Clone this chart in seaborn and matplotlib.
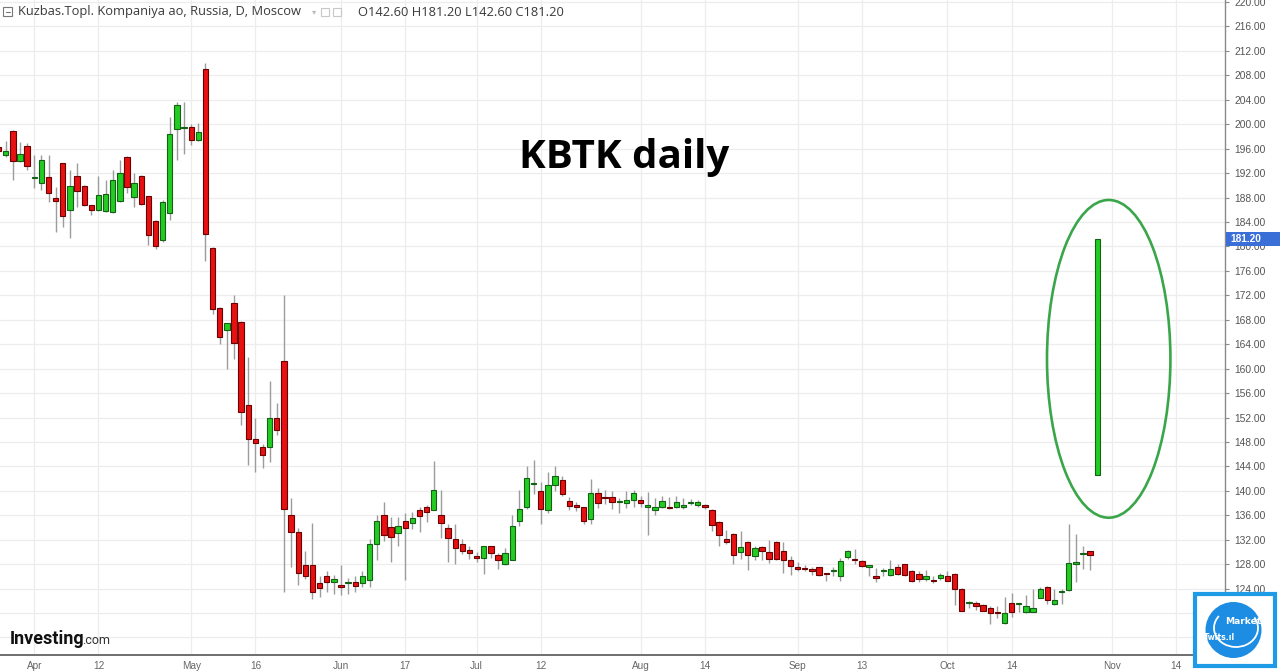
import numpy as np
import pandas as pd
import matplotlib
matplotlib.use("Agg")
import matplotlib.pyplot as plt
import matplotlib.transforms as mtransforms
from matplotlib.patches import Ellipse, Rectangle, Circle, Arc
import seaborn as sns

# ---------------- data (daily candles, oldest first) ----------------
opens = [196.2, 194.9, 198.9, 193.9, 196.5, 191.2, 190.3, 191.3, 187.9, 193.6,
         186.0, 191.6, 189.9, 186.7, 185.9, 185.8, 185.6, 187.4, 194.7, 188.1,
         191.6, 188.2, 184.2, 181.1, 185.4, 199.2, 199.3, 199.5, 197.4, 209.1,
         179.8, 170.0, 166.4, 170.8, 167.7, 154.0, 148.4, 147.1, 147.1, 152.0,
         161.2, 136.1, 133.2, 127.9, 127.9, 124.9, 126.1, 125.0, 124.6, 124.9,
         125.0, 124.9, 125.4, 131.3, 136.1, 134.15, 133.1, 135.0, 134.7, 136.9,
         137.3, 136.9, 136.0, 133.9, 132.1, 131.3, 130.3, 129.3, 129.0, 130.9,
         129.5, 128.0, 128.7, 135.0, 137.4, 141.1, 139.9, 136.9, 140.9, 141.7,
         138.3, 137.6, 137.3, 135.4, 139.7, 139.0, 139.0, 138.1, 138.0, 138.5,
         138.5, 137.3, 136.9, 137.4, 137.4, 137.3, 137.3, 138.0, 137.6, 137.7,
         136.9, 134.9, 132.15, 133.0, 130.0, 131.7, 129.4, 130.8, 130.0, 131.6,
         130.1, 128.7, 127.6, 127.4, 127.25, 127.5, 126.5, 126.9, 126.1, 129.2,
         128.65, 128.45, 127.6, 126.1, 126.9, 126.2, 127.5, 128.0, 126.8, 126.4,
         125.6, 125.35, 125.7, 126.0, 126.4, 124.0, 121.6, 121.6, 121.25, 120.8,
         120.2, 118.3, 121.6, 121.4, 120.2, 120.2, 122.45, 124.2, 121.4, 123.4,
         123.7, 128.1, 129.7, 130.1, 142.6]
highs = [196.5, 197.3, 199.1, 197.1, 197.0, 194.9, 195.0, 194.9, 189.8, 193.7,
         192.5, 193.6, 190.0, 186.8, 191.5, 190.8, 192.5, 194.1, 194.8, 192.0,
         191.7, 188.3, 184.3, 187.6, 201.2, 203.7, 203.7, 200.0, 200.2, 210.1,
         179.9, 170.1, 167.5, 172.0, 167.8, 161.9, 151.9, 147.6, 157.9, 154.4,
         172.0, 138.9, 133.9, 130.2, 134.7, 126.1, 126.9, 126.3, 127.9, 125.8,
         126.1, 126.8, 132.1, 136.1, 138.1, 135.7, 135.7, 136.3, 136.5, 137.3,
         137.6, 144.9, 140.2, 134.6, 134.5, 132.1, 131.0, 130.0, 131.0, 131.0,
         129.8, 130.7, 136.0, 140.2, 144.0, 145.1, 141.4, 143.1, 144.0, 142.5,
         139.0, 138.1, 137.4, 142.0, 140.5, 140.1, 140.0, 138.8, 140.0, 140.2,
         139.1, 139.8, 138.8, 139.1, 139.0, 139.2, 138.9, 138.7, 138.5, 137.9,
         137.0, 135.0, 133.6, 133.1, 133.35, 131.8, 130.9, 130.9, 132.0, 131.8,
         131.7, 129.3, 128.4, 127.9, 127.6, 127.6, 126.6, 127.6, 129.0, 130.35,
         130.5, 128.6, 127.8, 127.4, 127.4, 128.6, 128.0, 128.1, 127.0, 126.9,
         127.1, 126.0, 126.5, 126.9, 126.5, 124.1, 121.9, 122.0, 121.4, 121.1,
         121.1, 122.7, 123.3, 121.5, 122.9, 124.0, 124.2, 124.4, 124.0, 124.0,
         134.55, 133.0, 130.9, 130.2, 181.2]
lows = [195.3, 194.7, 190.9, 193.8, 192.5, 189.6, 189.2, 187.3, 182.3, 183.2,
        181.3, 186.5, 186.6, 185.1, 185.8, 185.7, 185.5, 187.3, 188.7, 186.4,
        186.8, 180.2, 179.5, 180.8, 184.3, 194.1, 195.2, 196.6, 197.2, 177.6,
        169.0, 164.0, 160.0, 161.6, 150.7, 144.3, 143.1, 143.7, 144.7, 149.1,
        123.4, 127.5, 124.6, 125.5, 122.3, 122.6, 123.4, 123.1, 123.0, 123.1,
        123.4, 124.2, 124.3, 128.7, 131.75, 128.3, 130.9, 125.4, 133.8, 133.2,
        134.9, 136.8, 132.3, 128.3, 128.1, 129.6, 128.9, 128.3, 126.4, 129.0,
        127.2, 127.9, 128.6, 134.3, 137.0, 139.5, 134.5, 136.3, 139.9, 139.2,
        136.8, 136.7, 134.6, 134.6, 137.2, 137.9, 137.0, 136.3, 137.2, 137.3,
        137.4, 132.7, 136.0, 137.2, 137.1, 137.2, 137.1, 137.6, 137.4, 137.1,
        133.35, 130.9, 131.3, 128.0, 128.9, 127.1, 128.6, 128.6, 128.2, 128.7,
        126.5, 126.3, 126.9, 126.8, 126.3, 126.1, 125.3, 126.0, 125.3, 128.9,
        128.0, 127.5, 126.1, 125.1, 126.0, 126.0, 126.3, 126.1, 125.1, 125.1,
        125.3, 124.9, 125.45, 125.2, 121.3, 120.3, 120.9, 120.5, 120.3, 118.2,
        119.2, 118.2, 119.3, 120.2, 120.0, 120.1, 122.4, 121.4, 121.3, 121.4,
        123.6, 125.0, 127.25, 127.0, 142.6]
closes = [195.6, 195.6, 194.0, 195.2, 193.2, 191.3, 194.1, 188.7, 187.5, 185.0,
          189.9, 189.0, 186.7, 186.0, 188.4, 188.6, 190.9, 192.0, 189.8, 190.3,
          186.9, 181.9, 180.1, 187.2, 198.4, 203.1, 199.6, 197.4, 198.8, 182.0,
          169.8, 165.2, 167.4, 164.2, 152.9, 148.4, 147.8, 145.9, 151.9, 150.0,
          137.0, 133.2, 126.5, 126.1, 123.4, 124.1, 125.0, 125.5, 124.2, 125.0,
          124.5, 126.1, 131.3, 135.0, 132.7, 132.5, 134.3, 133.9, 135.5, 135.8,
          136.5, 140.2, 134.7, 132.2, 130.6, 130.1, 129.8, 129.0, 130.9, 129.8,
          128.6, 129.8, 134.3, 137.0, 142.1, 141.2, 137.0, 140.9, 142.5, 139.4,
          137.5, 137.3, 135.0, 139.7, 138.0, 138.8, 138.2, 138.2, 138.5, 139.6,
          138.0, 137.7, 137.3, 138.4, 137.2, 138.1, 137.6, 138.05, 138.1, 137.3,
          134.4, 132.8, 131.6, 129.5, 130.8, 129.5, 130.7, 130.1, 128.9, 128.8,
          128.6, 127.7, 127.2, 127.2, 126.9, 126.2, 126.4, 126.95, 128.45, 130.1,
          128.6, 127.7, 127.65, 125.7, 126.95, 127.25, 126.4, 126.2, 125.3, 125.6,
          126.0, 125.2, 126.2, 125.3, 124.0, 120.4, 121.65, 121.2, 120.4, 120.0,
          119.95, 120.0, 120.2, 121.45, 121.2, 120.9, 124.0, 122.1, 122.2, 123.45,
          128.2, 128.15, 129.75, 129.5, 181.2]

tick_pos = [5, 14, 27, 36, 48, 57, 67, 76, 90, 99, 112, 121, 133, 142, 156, 165]
tick_labels = ["Apr", "12", "May", "16", "Jun", "17", "Jul", "12",
               "Aug", "14", "Sep", "13", "Oct", "14", "Nov", "14"]
price_ticks = list(range(116, 224, 4))

title_text = "KBTK daily"
header_text = "Kuzbas.Topl. Kompaniya ao, Russia, D, Moscow"

# ---------------- style ----------------
sns.set_theme(style="white")
plt.rcParams['font.family'] = ['DejaVu Sans']

df = pd.DataFrame({"o": opens, "h": highs, "l": lows, "c": closes})
df["x"] = np.arange(len(df))
df["bottom"] = df[["o", "c"]].min(axis=1)
df["body"] = (df["c"] - df["o"]).abs().clip(lower=0.18)
df["dir"] = np.where(df["c"] >= df["o"], "up", "down")

W, H = 1280, 672
fig = plt.figure(figsize=(W / 100, H / 100), dpi=100)
fig.patch.set_facecolor("white")
ax = fig.add_axes([0, 17 / H, 1225 / W, 655 / H])

# wicks
ax.vlines(df["x"], df["l"], df["h"], color="#9c9c9c", lw=1, zorder=2)

# bodies
for d, fc, ec in [("up", "#22cc22", "#146014"), ("down", "#e81111", "#6a0000")]:
    sub = df[df["dir"] == d].reset_index(drop=True)
    sns.barplot(data=sub, x="x", y="body", native_scale=True, width=0.75,
                bottom=sub["bottom"].values, color=fc, saturation=1,
                edgecolor=ec, linewidth=0.8, errorbar=None, ax=ax, zorder=3)

ax.set_xlabel("")
ax.set_ylabel("")
ax.set_xlim(0.2, 171.9)
ax.set_ylim(113.13, 220.33)

ax.set_xticks(tick_pos)
ax.set_xticklabels(tick_labels)
ax.set_yticks(price_ticks)
ax.set_yticklabels([f"{v:.2f}" for v in price_ticks])
ax.yaxis.tick_right()
ax.grid(True, color="#ededed", lw=0.9)
ax.set_axisbelow(True)

for s in ["left", "top"]:
    ax.spines[s].set_visible(False)
ax.spines["right"].set_color("#8a8a8a")
ax.spines["right"].set_linewidth(1.0)
ax.spines["bottom"].set_color("#6e6e6e")
ax.spines["bottom"].set_linewidth(1.4)

ax.tick_params(axis="y", which="major", length=3, width=0.8, color="#8a8a8a",
               pad=3.5, labelsize=7.4, labelcolor="#555555", right=True, left=False)
ax.tick_params(axis="x", length=0, pad=4, labelsize=7.2, labelcolor="#666666")
for lab in ax.get_xticklabels():
    lab.set_family(["Liberation Sans Narrow", "Liberation Sans", "DejaVu Sans"])
for lab in ax.get_yticklabels():
    lab.set_family(["Liberation Sans", "DejaVu Sans"])

# ellipse highlight
ax.add_patch(Ellipse((155.6, 161.6), 17.3, 52.0, fill=False,
                     edgecolor="#3aa64a", lw=1.9, zorder=5))

# last price label on axis
trans = mtransforms.blended_transform_factory(ax.transAxes, ax.transData)
ax.add_patch(Rectangle((1.0008, closes[-1] - 1.2), 56 / 1225, 2.4,
                       transform=trans, clip_on=False, fc="#3a6fd8", ec="none",
                       zorder=9))
ax.text(1.004, closes[-1], f"{closes[-1]:.2f}", transform=trans,
        ha="left", va="center", fontsize=7.3, color="white", weight="bold",
        family=["Liberation Sans", "DejaVu Sans"], zorder=10)

# title
fig.text(623.7 / W, 1 - 167.7 / H, title_text, ha="center", va="baseline",
         fontsize=29, weight="bold", family=["Open Sans", "DejaVu Sans"],
         color="black")

# ---------------- overlay in pixel coords ----------------
ov = fig.add_axes([0, 0, 1, 1])
ov.set_xlim(0, W)
ov.set_ylim(H, 0)
ov.axis("off")
ov.patch.set_alpha(0)

# header
ov.add_patch(Rectangle((3, 7), 9, 9, fill=False, ec="#777777", lw=0.8))
ov.plot([5.5, 9.5], [11.5, 11.5], color="#777777", lw=0.8)
ov.text(18, 12, header_text, fontsize=9.3, family=["Open Sans", "DejaVu Sans"],
        color="#3a3a3a", va="center", ha="left")
ov.text(312, 12, "▾", fontsize=6, color="#bbbbbb", va="center", ha="left")
ov.add_patch(Rectangle((321, 7.5), 8, 8, fill=False, ec="#c8c8c8", lw=0.8))
ov.add_patch(Rectangle((333, 7.5), 8, 8, fill=False, ec="#c8c8c8", lw=0.8))
ov.text(358, 12, f"O{opens[-1]:.2f} H{highs[-1]:.2f} L{lows[-1]:.2f} C{closes[-1]:.2f}",
        fontsize=9.3, family=["Open Sans", "DejaVu Sans"], color="#3a3a3a",
        va="center", ha="left")

# Investing.com logo
ov.text(10, 644, "Investing", fontsize=13, weight="bold",
        family=["Roboto", "DejaVu Sans"], color="#111111", va="baseline", ha="left")
ov.text(82.5, 644, ".com", fontsize=9, family=["Roboto", "DejaVu Sans"],
        color="#333333", va="baseline", ha="left")

# MarketTwits logo
ov.add_patch(Rectangle((1195, 594), 80, 72, fc="white", ec="#1e9be6", lw=3, zorder=5))
ov.add_patch(Circle((1233.5, 630), 28, fc="#1c8de2", ec="none", zorder=6))
ov.add_patch(Arc((1236, 628), 44, 38, theta1=-30, theta2=215, color="white", lw=1.3, zorder=7))
ov.text(1243, 621.5, "Market", fontsize=6.6, weight="bold", color="white",
        ha="center", va="center", zorder=8)
ov.text(1220, 637.5, "Twits.ıl", fontsize=5.6, weight="bold", color="white",
        ha="center", va="center", zorder=8)

fig.savefig("out.png", dpi=100, facecolor="white")
